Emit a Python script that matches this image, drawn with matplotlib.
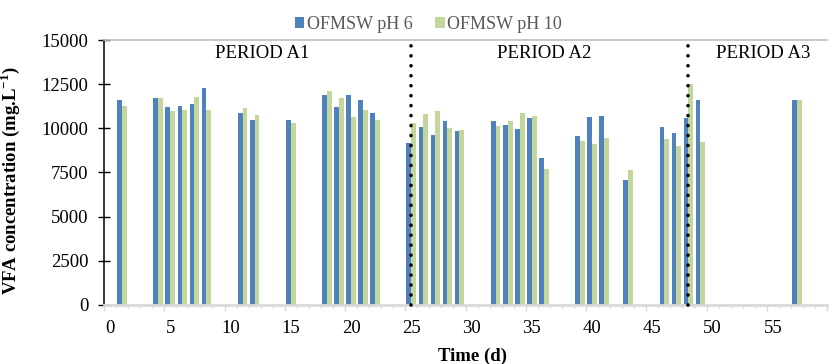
import numpy as np
import matplotlib
matplotlib.use('Agg')
import matplotlib.pyplot as plt
from matplotlib.ticker import FixedLocator, NullFormatter

plt.rcParams['font.family'] = 'Liberation Serif'
plt.rcParams['mathtext.fontset'] = 'custom'
plt.rcParams['mathtext.rm'] = 'Liberation Serif:bold'

# Data
days = [1, 4, 5, 6, 7, 8, 11, 12, 15, 18, 19, 20, 21, 22, 25, 26, 27, 28, 29,
        32, 33, 34, 35, 36, 39, 40, 41, 43, 46, 47, 48, 49, 57]
ph6 = [11630, 11710, 11200, 11270, 11390, 12270, 10880, 10500, 10460, 11880,
       11220, 11860, 11630, 10840, 9180, 10070, 9650, 10390, 9840, 10410,
       10180, 9990, 10580, 8330, 9560, 10620, 10690, 7050, 10090, 9710,
       10560, 11630, 11630]
ph10 = [11270, 11710, 10990, 11030, 11780, 11030, 11140, 10750, 10330, 12100,
        11690, 10620, 11030, 10460, 10280, 10820, 10990, 10010, 9880, 10140,
        10390, 10880, 10710, 7690, 9290, 9090, 9460, 7650, 9370, 9010,
        12500, 9240, 11630]
period_bounds = [25, 48]
period_labels = ['PERIOD A1', 'PERIOD A2', 'PERIOD A3']
period_x = [12.6, 36.0, 54.2]

blue = '#4F81BD'
green = '#C3D69B'

fig = plt.figure(figsize=(8.3, 3.64), dpi=100)
ax = fig.add_axes([0.1253, 0.1621, 0.8711, 0.7280])

x = np.array(days)
w = 0.4
ax.bar(x - w/2, ph6, width=w, color=blue, label='OFMSW pH 6')
ax.bar(x + w/2, ph10, width=w, color=green, label='OFMSW pH 10')

# period separators (dotted lines)
for b in period_bounds:
    ax.plot([b, b], [0, 15000], color='black', linewidth=2.6,
            linestyle=(0, (0.01, 2.75)), dash_capstyle='round', zorder=5,
            clip_on=False)

for lbl, px in zip(period_labels, period_x):
    ax.text(px, 14250, lbl, ha='center', va='center', fontsize=13.5)

ax.set_xlim(-0.5, 59.5)
ax.set_ylim(0, 15000)

# y axis
ax.set_yticks(np.arange(0, 15001, 2500))
ax.tick_params(axis='y', direction='inout', length=8.6, width=1.0,
               labelsize=13.5, pad=7)
ax.spines['left'].set_linewidth(1.1)

# x axis: tick marks on category boundaries, labels on categories
ax.xaxis.set_major_locator(FixedLocator(np.arange(-0.5, 60, 5)))
ax.xaxis.set_minor_locator(FixedLocator(np.arange(-0.5, 60, 1)))
ax.xaxis.set_major_formatter(NullFormatter())
ax.tick_params(axis='x', which='major', length=4, width=1.0, color='#d9d9d9')
ax.tick_params(axis='x', which='minor', length=2, width=1.0, color='#d9d9d9')
ax.spines['bottom'].set_color('#d9d9d9')
ax.spines['bottom'].set_linewidth(2)

sec = ax.secondary_xaxis('bottom')
sec.set_xticks(np.arange(0, 56, 5))
sec.tick_params(length=0, labelsize=13.5, pad=11)
sec.spines['bottom'].set_visible(False)

ax.spines['right'].set_visible(False)
ax.spines['top'].set_color('#bfbfbf')
ax.spines['top'].set_linewidth(1.2)

ax.set_xlabel('Time (d)', fontsize=13.5, fontweight='bold')
ax.xaxis.set_label_coords(0.509, -0.16)
ax.set_ylabel(r'VFA concentration (mg.L$^{\mathrm{-1}}$)', fontsize=13.5,
              fontweight='bold')
ax.yaxis.set_label_coords(-0.113, 0.47)

leg = fig.legend(loc='upper center', bbox_to_anchor=(0.516, 1.0), ncol=2,
                 frameon=False, fontsize=13, handlelength=0.55,
                 handleheight=0.55, handletextpad=0.15, columnspacing=1.2)
for t in leg.get_texts():
    t.set_color('#595959')

fig.savefig('out.png', dpi=100)
